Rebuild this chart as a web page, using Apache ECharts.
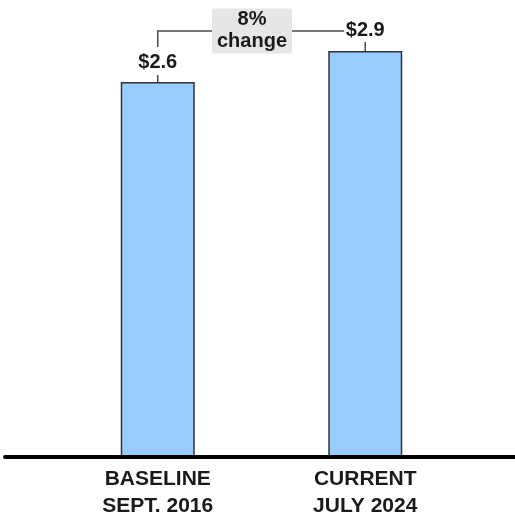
<!DOCTYPE html>
<html>
<head>
<meta charset="utf-8">
<script src="https://cdn.jsdelivr.net/npm/echarts@6/dist/echarts.min.js"></script>
<style>
  html, body { margin: 0; padding: 0; background: #fff; }
  #chart { width: 515px; height: 516px; }
</style>
</head>
<body>
<div id="chart"></div>
<script>
// Average value, baseline vs. current (in dollars)
const categories = ['BASELINE\nSEPT. 2016', 'CURRENT\nJULY 2024'];
const values = [2.64, 2.86];
const yMax = 3;

const FONT = '"Liberation Sans", Arial, sans-serif';
const TEXT = '#1a1a1a';
const LINE = '#4a4a4a';

const fmtDollar = v => '$' + v.toFixed(1);
const pctChange = Math.round((values[1] / values[0] - 1) * 100) + '%\nchange';

const chart = echarts.init(document.getElementById('chart'), null, { renderer: 'canvas' });

// Connector bracket, value ticks and the change box, positioned from the bar scale
function renderAnnotations(params, api) {
  const p0 = api.coord([0, values[0]]);
  const p1 = api.coord([1, values[1]]);
  const labelGap = 20;            // label centre above the bar top
  const level = p1[1] - labelGap; // bracket height, level with the right label
  const label1Half = 21;
  const lineEnd = p1[0] - label1Half;
  const boxW = 80, boxH = 45;
  const boxCx = (p0[0] + lineEnd) / 2 + 1;
  const boxL = boxCx - boxW / 2;
  const boxR = boxCx + boxW / 2;
  const lineStyle = { stroke: LINE, lineWidth: 1.5 };
  return {
    type: 'group',
    children: [
      { type: 'line', shape: { x1: p0[0], y1: p0[1] - 7, x2: p0[0], y2: p0[1] }, style: lineStyle },
      { type: 'line', shape: { x1: p1[0], y1: p1[1] - 9, x2: p1[0], y2: p1[1] }, style: lineStyle },
      { type: 'polyline', shape: { points: [[p0[0], p0[1] - 35], [p0[0], level], [boxL, level]] }, style: Object.assign({ fill: null }, lineStyle) },
      { type: 'line', shape: { x1: boxR, y1: level, x2: lineEnd, y2: level }, style: lineStyle },
      { type: 'rect', shape: { x: boxL, y: level - boxH / 2, width: boxW, height: boxH }, style: { fill: '#e6e6e6' } },
      {
        type: 'text',
        x: boxCx, y: level,
        style: {
          text: pctChange, fill: TEXT, font: 'bold 20px ' + FONT,
          align: 'center', verticalAlign: 'middle', lineHeight: 22
        }
      }
    ]
  };
}

chart.setOption({
  animation: false,
  grid: [
    { left: 54, right: 46, top: 31, bottom: 59, outerBoundsMode: 'none' },
    { left: 5, right: 0, top: 31, bottom: 59, outerBoundsMode: 'none' }
  ],
  xAxis: [
    {
      type: 'category', gridIndex: 0, data: categories,
      axisLine: { show: false }, axisTick: { show: false },
      axisLabel: {
        margin: 9, color: TEXT, fontFamily: FONT, fontWeight: 'bold',
        fontSize: 21, lineHeight: 27
      }
    },
    {
      type: 'value', gridIndex: 1, min: 0, max: 1, z: 10,
      axisLine: { show: true, lineStyle: { color: '#000', width: 4 } },
      axisTick: { show: false }, axisLabel: { show: false }, splitLine: { show: false }
    }
  ],
  yAxis: [
    { type: 'value', gridIndex: 0, min: 0, max: yMax, show: false },
    { type: 'value', gridIndex: 1, min: 0, max: 1, show: false }
  ],
  series: [
    {
      type: 'bar', xAxisIndex: 0, yAxisIndex: 0,
      data: values, barWidth: 74,
      itemStyle: { color: '#99ccff', borderColor: '#333', borderWidth: 1.5 },
      label: {
        show: true, position: 'top', distance: 10,
        formatter: p => fmtDollar(p.value),
        color: TEXT, fontFamily: FONT, fontWeight: 'bold', fontSize: 20
      }
    },
    {
      type: 'custom', xAxisIndex: 0, yAxisIndex: 0, clip: false, silent: true,
      data: [[0, 0]],
      renderItem: renderAnnotations
    }
  ]
});
</script>
</body>
</html>
